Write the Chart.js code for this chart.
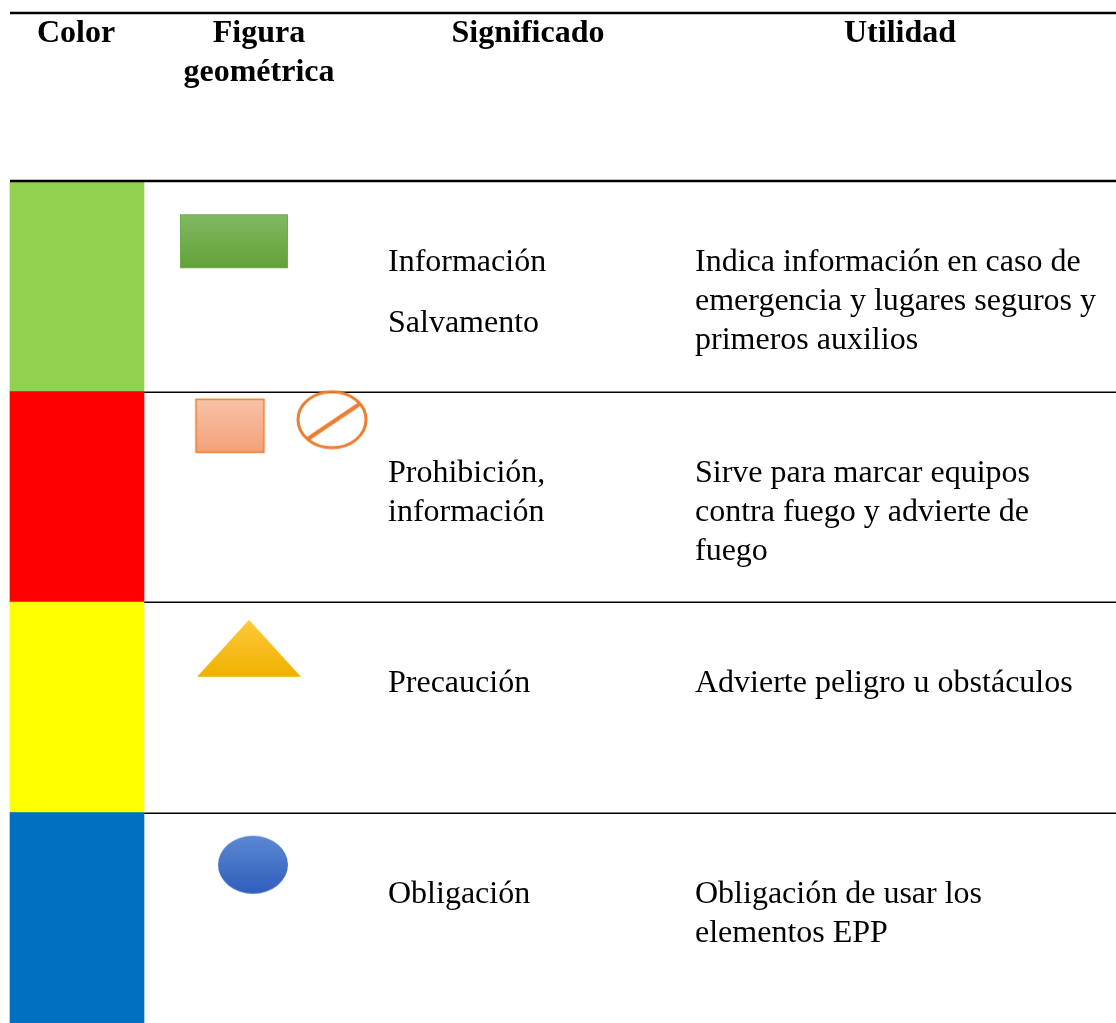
<!DOCTYPE html>
<html lang="es">
<head>
<meta charset="utf-8">
<title>Colores de seguridad</title>
<script src="https://cdn.jsdelivr.net/npm/chart.js@4"></script>
<style>
    html, body { margin: 0; padding: 0; background: #ffffff; }
    #box { width: 1116px; height: 1023px; position: relative; }
</style>
</head>
<body>
<div id="box"><canvas id="myChart"></canvas></div>
<script>
const headers = ['Color', 'Figura\ngeométrica', 'Significado', 'Utilidad'];
const rowColors = ['#92d050', '#ff0000', '#ffff00', '#0070c0'];
const meanings = ['Información\n\nSalvamento', 'Prohibición,\ninformación', 'Precaución', 'Obligación'];
const utilities = [
    'Indica información en caso de\nemergencia y lugares seguros y\nprimeros auxilios',
    'Sirve para marcar equipos\ncontra fuego y advierte de\nfuego',
    'Advierte peligro u obstáculos',
    'Obligación de usar los\nelementos EPP'
];
const figures = ['rectángulo', 'cuadrado', 'prohibición', 'triángulo', 'círculo'];
const figureRows = [0, 1, 1, 2, 3];

// layout (pixels / row fractions), not data
const columnEdges = [10, 144, 372, 680, 1116];
const headerCenters = [76, 259, 528, 900];
const textLeft = [388, 695];
const figureSpots = [[234, -0.214], [230, -0.337], [332, -0.366], [249, -0.28], [253, -0.252]];
const headerHeight = 181;

const FONT = '"Liberation Serif", "Times New Roman", serif';

function makeCanvas(w, h) {
    const c = document.createElement('canvas');
    c.width = w;
    c.height = h;
    return c;
}

function vGradient(ctx, y0, y1, top, bottom) {
    const g = ctx.createLinearGradient(0, y0, 0, y1);
    g.addColorStop(0, top);
    g.addColorStop(1, bottom);
    return g;
}

function drawFigure(name) {
    let c, ctx;
    if (name === 'rectángulo') {
        c = makeCanvas(112, 58);
        ctx = c.getContext('2d');
        ctx.fillStyle = vGradient(ctx, 2, 56, '#83b967', '#62a136');
        ctx.fillRect(2, 2, 108, 54);
        ctx.strokeStyle = '#6eac48';
        ctx.lineWidth = 1;
        ctx.strokeRect(2.5, 2.5, 107, 53);
    } else if (name === 'cuadrado') {
        c = makeCanvas(73, 58);
        ctx = c.getContext('2d');
        ctx.fillStyle = vGradient(ctx, 2, 56, '#f8c3a9', '#f4a179');
        ctx.fillRect(2, 2, 69, 54);
        ctx.strokeStyle = '#ed7d31';
        ctx.lineWidth = 1.5;
        ctx.strokeRect(2.5, 2.5, 68, 53);
    } else if (name === 'prohibición') {
        c = makeCanvas(76, 64);
        ctx = c.getContext('2d');
        ctx.strokeStyle = '#ed7d31';
        ctx.lineWidth = 3;
        ctx.beginPath();
        ctx.ellipse(38, 32, 34, 28, 0, 0, Math.PI * 2);
        ctx.stroke();
        ctx.lineWidth = 4;
        ctx.beginPath();
        ctx.moveTo(14, 51);
        ctx.lineTo(66, 16);
        ctx.stroke();
    } else if (name === 'triángulo') {
        c = makeCanvas(108, 61);
        ctx = c.getContext('2d');
        ctx.fillStyle = vGradient(ctx, 2, 59, '#ffc93d', '#efb200');
        ctx.beginPath();
        ctx.moveTo(54, 2);
        ctx.lineTo(106, 59);
        ctx.lineTo(2, 59);
        ctx.closePath();
        ctx.fill();
    } else {
        c = makeCanvas(74, 62);
        ctx = c.getContext('2d');
        ctx.fillStyle = vGradient(ctx, 2, 60, '#5c88d2', '#2f5ebc');
        ctx.beginPath();
        ctx.ellipse(37, 31, 35, 29, 0, 0, Math.PI * 2);
        ctx.fill();
    }
    return c;
}

const tablePlugin = {
    id: 'tablePlugin',
    beforeDatasetsDraw(chart) {
        const {ctx, scales: {y}} = chart;
        const rowH = y.getPixelForValue(1) - y.getPixelForValue(0);
        ctx.save();
        ctx.strokeStyle = '#000000';
        ctx.lineWidth = 1.5;
        for (let i = 1; i < rowColors.length; i++) {
            const py = Math.round(y.getPixelForValue(i) - rowH / 2) + 0.25;
            ctx.beginPath();
            ctx.moveTo(columnEdges[0], py);
            ctx.lineTo(columnEdges[columnEdges.length - 1], py);
            ctx.stroke();
        }
        ctx.restore();
    },
    afterDraw(chart) {
        const {ctx, chartArea, scales: {y}} = chart;
        const right = columnEdges[columnEdges.length - 1];
        const rowH = y.getPixelForValue(1) - y.getPixelForValue(0);
        ctx.save();

        ctx.strokeStyle = '#000000';
        ctx.lineWidth = 2.5;
        [13, chartArea.top].forEach(py => {
            ctx.beginPath();
            ctx.moveTo(columnEdges[0], py);
            ctx.lineTo(right, py);
            ctx.stroke();
        });

        ctx.fillStyle = '#000000';
        ctx.textBaseline = 'middle';
        ctx.textAlign = 'center';
        ctx.font = 'bold 32px ' + FONT;
        headers.forEach((h, i) => {
            h.split('\n').forEach((line, k) => {
                ctx.fillText(line, headerCenters[i], 34 + k * 39);
            });
        });

        ctx.textAlign = 'left';
        ctx.font = '32px ' + FONT;
        rowColors.forEach((_, i) => {
            const top = y.getPixelForValue(i) - rowH / 2;
            [meanings[i], utilities[i]].forEach((txt, col) => {
                let py = top + 82;
                txt.split('\n').forEach(line => {
                    if (line === '') {
                        py += 22;
                        return;
                    }
                    ctx.fillText(line, textLeft[col], py);
                    py += 39;
                });
            });
        });
        ctx.restore();
    }
};

function main() {
    const chartElement = document.getElementById('myChart');
    if (!chartElement) {
        return;
    }
    const ctx = chartElement.getContext('2d');
    const figureImages = figures.map(drawFigure);

    const myChart = new Chart(ctx, {
        type: 'bar',
        data: {
            labels: meanings.map(m => m.replace(/\n+/g, ' ')),
            datasets: [{
                label: 'Color',
                indexAxis: 'y',
                data: rowColors.map(() => [columnEdges[0], columnEdges[1]]),
                backgroundColor: rowColors,
                borderWidth: 0,
                borderSkipped: false,
                grouped: false,
                barPercentage: 1,
                categoryPercentage: 1,
                xAxisID: 'x',
                yAxisID: 'y'
            }, {
                type: 'scatter',
                label: 'Figura geométrica',
                indexAxis: 'x',
                data: figures.map((f, i) => ({x: figureSpots[i][0], y: figureRows[i] + figureSpots[i][1]})),
                pointStyle: figureImages,
                pointRadius: 10,
                xAxisID: 'x',
                yAxisID: 'yFig'
            }]
        },
        options: {
            indexAxis: 'y',
            responsive: true,
            maintainAspectRatio: false,
            animation: false,
            layout: {
                autoPadding: false,
                padding: {top: headerHeight, left: 0, right: 0, bottom: 0}
            },
            scales: {
                x: {type: 'linear', axis: 'x', min: 0, max: 1116, offset: false, display: false},
                y: {type: 'category', axis: 'y', offset: true, display: false},
                yFig: {type: 'linear', axis: 'y', min: -0.5, max: 3.5, reverse: true, offset: false, display: false}
            },
            plugins: {
                legend: {display: false},
                tooltip: {enabled: false}
            }
        },
        plugins: [tablePlugin]
    });
}

main();
</script>
</body>
</html>
